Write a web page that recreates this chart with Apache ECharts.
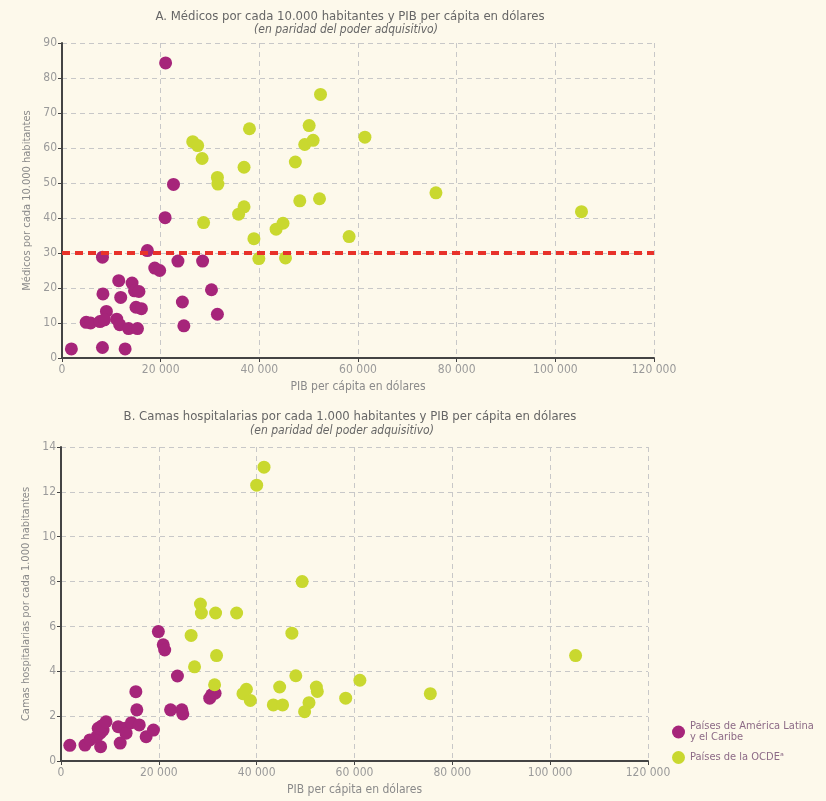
<!DOCTYPE html>
<html>
<head>
<meta charset="utf-8">
<script src="https://cdn.jsdelivr.net/npm/echarts@6/dist/echarts.min.js"></script>
<style>
  html, body { margin: 0; padding: 0; background: #fdf9eb; }
  #chart { width: 826px; height: 801px; }
</style>
</head>
<body>
<div id="chart"></div>
<script>
// [PIB per cápita (miles de dólares), médicos por cada 10.000 hab.]
const medicosAL = [
  [1.9, 2.6], [8.2, 28.8], [17.3, 30.7], [18.8, 25.7], [19.8, 25.0], [23.5, 27.7],
  [28.5, 27.7], [11.5, 22.1], [8.3, 18.3], [14.2, 21.4], [14.7, 19.2], [15.6, 19.0],
  [11.9, 17.3], [30.3, 19.5], [24.4, 16.0], [15.0, 14.5], [16.1, 14.1], [9.0, 13.3],
  [4.9, 10.2], [5.8, 10.0], [7.7, 10.4], [8.6, 10.9], [11.1, 11.1], [11.7, 9.5],
  [13.5, 8.4], [15.3, 8.4], [31.5, 12.5], [24.7, 9.2], [8.2, 3.0], [12.8, 2.6],
  [21.0, 84.3], [22.6, 49.6], [20.9, 40.1]
]
const medicosOCDE = [
  [52.4, 75.3], [38.0, 65.5], [50.1, 66.4], [26.5, 61.8], [27.5, 60.7], [49.2, 61.0],
  [50.9, 62.2], [61.4, 63.1], [28.4, 57.0], [36.9, 54.5], [47.3, 56.0], [31.5, 51.6],
  [31.6, 49.7], [48.2, 44.9], [52.2, 45.5], [36.9, 43.2], [35.8, 41.1], [28.7, 38.7],
  [43.4, 36.8], [44.8, 38.5], [38.9, 34.1], [58.2, 34.7], [39.9, 28.4], [45.3, 28.6],
  [75.8, 47.2], [105.3, 41.8]
]
// [PIB per cápita (miles de dólares), camas por cada 1.000 hab.]
const camasAL = [
  [1.8, 0.70], [4.9, 0.71], [5.9, 0.94], [8.1, 0.64], [7.3, 1.08], [8.0, 1.24],
  [8.6, 1.38], [7.6, 1.46], [8.3, 1.56], [9.2, 1.75], [12.1, 0.80], [11.7, 1.53],
  [13.1, 1.46], [13.3, 1.24], [14.4, 1.71], [16.0, 1.61], [17.4, 1.08], [18.9, 1.38],
  [15.3, 3.09], [15.5, 2.28], [19.9, 5.77], [20.9, 5.18], [21.2, 4.95], [23.8, 3.79],
  [22.4, 2.28], [24.7, 2.28], [24.9, 2.10], [30.4, 2.80], [30.8, 2.95], [31.5, 3.02]
]
const camasOCDE = [
  [41.5, 13.1], [40.0, 12.3], [49.3, 8.0], [28.5, 7.0], [28.7, 6.6], [31.6, 6.6],
  [35.9, 6.6], [26.6, 5.6], [47.2, 5.7], [31.8, 4.7], [27.3, 4.2], [48.0, 3.8],
  [31.4, 3.4], [61.1, 3.6], [37.9, 3.2], [37.2, 3.0], [38.7, 2.7], [44.7, 3.3],
  [52.2, 3.3], [52.4, 3.1], [43.4, 2.5], [45.3, 2.5], [50.7, 2.6], [49.8, 2.2],
  [58.2, 2.8], [75.5, 3.0], [105.2, 4.7]
]
const umbralMedicos = 30

const nombreAL = 'Países de América Latina\ny el Caribe'
const nombreOCDE = 'Países de la OCDE\u1d43'

const colorAL = '#a6257a'
const colorOCDE = '#c9d82f'
const font = '"Liberation Sans Narrow", "DejaVu Sans Condensed", sans-serif'

const toDolares = arr => arr.map(p => [p[0] * 1000, p[1]])
const miles = v => String(v).replace(/\B(?=(\d{3})+(?!\d))/g, ' ')

function xAxis(gridIndex) {
  return {
    type: 'value',
    gridIndex,
    min: 0,
    max: 120000,
    interval: 20000,
    name: 'PIB per cápita en dólares',
    nameLocation: 'middle',
    nameGap: 23,
    nameTextStyle: { color: '#8a8a8a', fontSize: 12, fontFamily: font },
    axisLine: { lineStyle: { color: '#444', width: 2 } },
    axisTick: { show: true, length: 4, lineStyle: { color: '#444' } },
    axisLabel: { color: '#9a9a9a', fontSize: 12, fontFamily: font, formatter: miles, margin: 6 },
    splitLine: { show: true, lineStyle: { color: '#c8c8c8', type: [5, 4] } }
  }
}

function yAxis(gridIndex, max, interval, name) {
  return {
    type: 'value',
    gridIndex,
    min: 0,
    max,
    interval,
    name,
    nameLocation: 'middle',
    nameGap: 27,
    nameTextStyle: { color: '#8a8a8a', fontSize: 11, fontFamily: font },
    axisLine: { show: true, lineStyle: { color: '#444', width: 2 } },
    axisTick: { show: true, length: 4, lineStyle: { color: '#444' } },
    axisLabel: { color: '#9a9a9a', fontSize: 12, fontFamily: font, margin: 5 },
    splitLine: { show: true, lineStyle: { color: '#c8c8c8', type: [5, 4] } }
  }
}

function scatter(name, data, color, idx, extra) {
  return Object.assign({
    name,
    type: 'scatter',
    xAxisIndex: idx,
    yAxisIndex: idx,
    data: toDolares(data),
    symbolSize: 13,
    itemStyle: { color, opacity: 1 }
  }, extra || {})
}

const chart = echarts.init(document.getElementById('chart'))

chart.setOption({
  backgroundColor: '#fdf9eb',
  animation: false,
  title: [
    {
      text: 'A. Médicos por cada 10.000 habitantes y PIB per cápita en dólares',
      left: 345, top: 5, textAlign: 'center',
      textStyle: { color: '#666', fontSize: 13, fontWeight: 'normal', fontFamily: font }
    },
    {
      text: '(en paridad del poder adquisitivo)',
      left: 341, top: 19, textAlign: 'center',
      textStyle: { color: '#666', fontSize: 12, fontStyle: 'italic', fontWeight: 'normal', fontFamily: font }
    },
    {
      text: 'B. Camas hospitalarias por cada 1.000 habitantes y PIB per cápita en dólares',
      left: 345, top: 405, textAlign: 'center',
      textStyle: { color: '#666', fontSize: 13, fontWeight: 'normal', fontFamily: font }
    },
    {
      text: '(en paridad del poder adquisitivo)',
      left: 337, top: 420, textAlign: 'center',
      textStyle: { color: '#666', fontSize: 12, fontStyle: 'italic', fontWeight: 'normal', fontFamily: font }
    }
  ],
  legend: {
    data: [nombreAL, nombreOCDE],
    orient: 'vertical',
    left: 667,
    top: 716,
    icon: 'circle',
    itemWidth: 13,
    itemHeight: 13,
    itemGap: 8,
    textStyle: { color: '#8c6a86', fontSize: 11, lineHeight: 11, fontFamily: font }
  },
  grid: [
    { left: 62, top: 43, width: 592, height: 315 },
    { left: 61, top: 447, width: 587, height: 314 }
  ],
  xAxis: [xAxis(0), xAxis(1)],
  yAxis: [
    yAxis(0, 90, 10, 'Médicos por cada 10.000 habitantes'),
    yAxis(1, 14, 2, 'Camas hospitalarias por cada 1.000 habitantes')
  ],
  series: [
    scatter(nombreAL, medicosAL, colorAL, 0),
    scatter(nombreOCDE, medicosOCDE, colorOCDE, 0, {
      markLine: {
        silent: true,
        symbol: 'none',
        label: { show: false },
        lineStyle: { color: '#e8322a', width: 4, type: [8, 5] },
        data: [{ yAxis: umbralMedicos }]
      }
    }),
    scatter(nombreAL, camasAL, colorAL, 1),
    scatter(nombreOCDE, camasOCDE, colorOCDE, 1)
  ]
})
</script>
</body>
</html>
